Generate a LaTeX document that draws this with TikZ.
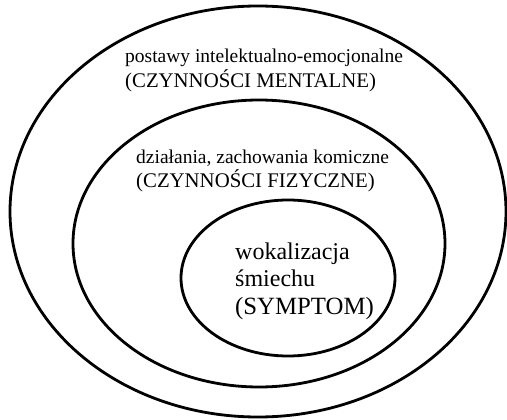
\documentclass[tikz,border=0pt]{standalone}
\usepackage{fontspec}
\setmainfont{Liberation Serif}
\usetikzlibrary{shapes.geometric}
\begin{document}
\begin{tikzpicture}[x=1pt,y=-1pt,
  ring/.style={draw=black, line width=2.8pt, ellipse, inner sep=0pt},
  lbl/.style={anchor=base west, inner sep=0pt, font=\fontsize{19.5}{24}\selectfont},
  caplbl/.style={anchor=base west, inner sep=0pt, font=\fontsize{20.8}{24}\selectfont},
  biglbl/.style={anchor=base west, inner sep=0pt, font=\fontsize{24}{28}\selectfont},
  bigcap/.style={anchor=base west, inner sep=0pt, font=\fontsize{24.8}{28}\selectfont}]
\useasboundingbox (0,0) rectangle (507,420);
\node[ring, minimum width=496pt, minimum height=411pt] (outer) at (258,211.5) {};
\node[ring, minimum width=372pt, minimum height=287pt] (middle) at (259,243.5) {};
\node[ring, minimum width=214pt, minimum height=156pt] (inner) at (288,278) {};
\node[lbl] (t1) at (125,63) {postawy intelektualno-emocjonalne};
\node[caplbl] (t2) at (125,88) {(CZYNNOŚCI MENTALNE)};
\node[lbl] (m1) at (136,164) {działania, zachowania komiczne};
\node[caplbl] (m2) at (136,188) {(CZYNNOŚCI FIZYCZNE)};
\node[biglbl] (i1) at (235,259) {wokalizacja};
\node[biglbl] (i2) at (235,287) {śmiechu};
\node[bigcap] (i3) at (235,314) {(SYMPTOM)};
\end{tikzpicture}
\end{document}
